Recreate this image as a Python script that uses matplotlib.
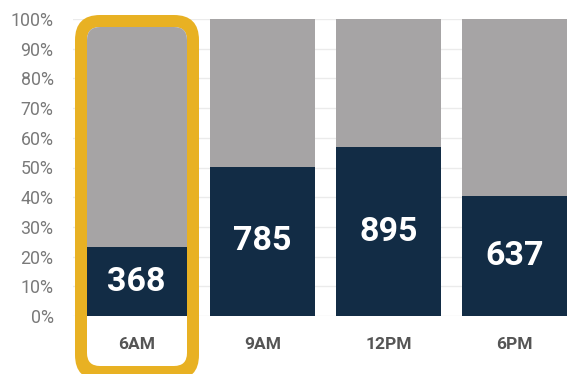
import matplotlib
matplotlib.use("Agg")
import matplotlib.pyplot as plt
from matplotlib.patches import FancyBboxPatch
from matplotlib.ticker import PercentFormatter

# Share of orders by time slot (dark) with the remainder (gray) stacked to 100%
slots = ["6AM", "9AM", "12PM", "6PM"]
share = [0.232, 0.502, 0.569, 0.404]
counts = [368, 785, 895, 637]
y_ticks = [0.0, 0.1, 0.2, 0.3, 0.4, 0.5, 0.6, 0.7, 0.8, 0.9, 1.0]
highlight = 0

NAVY = "#122c45"
GRAY = "#a6a4a5"
GOLD = "#e8b123"

W, H, DPI = 567, 374, 100
fig = plt.figure(figsize=(W / DPI, H / DPI), dpi=DPI)
fig.patch.set_facecolor("white")

# axes frame in pixels: left 73, right 567, 0% at y=316, 100% at y=19
ax = fig.add_axes([73 / W, (H - 316) / H, (W - 73) / W, (316 - 19) / H])
ax.set_xlim(-0.504, 3.417)
ax.set_ylim(0, 1)
for s in ax.spines.values():
    s.set_visible(False)

ax.set_yticks(y_ticks)
ax.yaxis.set_major_formatter(PercentFormatter(1.0, decimals=0))
for t in y_ticks:
    ax.axhline(t, color="#ebebeb", linewidth=1.0, zorder=0.1)
ax.tick_params(axis="y", length=0, pad=14, labelsize=12.8, labelcolor="#7a7a7a")
ax.tick_params(axis="x", length=0, pad=15, labelsize=12.5, labelcolor="#555555")
for lab in ax.get_yticklabels():
    lab.set_fontfamily("Roboto")
    lab.set_fontweight("normal")

x = list(range(len(slots)))
ax.set_xticks(x)
ax.set_xticklabels(slots, fontfamily="Roboto", fontweight="bold")

# highlight frame around the first slot (positioned in inches)
ins = fig.dpi_scale_trans
outer = FancyBboxPatch((75 / DPI + 0.25, -0.06 + 0.25), (199 - 75) / DPI - 0.5,
                       (380 - 15) / DPI - 0.5,
                       boxstyle="round,pad=0.25", transform=ins,
                       facecolor=GOLD, edgecolor="none", zorder=0.6,
                       clip_on=False)
inner = FancyBboxPatch((87 / DPI + 0.13, (H - 366) / DPI + 0.13),
                       (187 - 87) / DPI - 0.26, (366 - 27) / DPI - 0.26,
                       boxstyle="round,pad=0.13", transform=ins,
                       facecolor="white", edgecolor="none", zorder=0.7,
                       clip_on=False)
ax.add_patch(outer)
ax.add_patch(inner)

rest = [1 - v for v in share]
dark = ax.bar(x, share, width=0.835, color=NAVY, zorder=3)
light = ax.bar(x, rest, bottom=share, width=0.835, color=GRAY, zorder=3)
for bars in (dark, light):
    bars[highlight].set_clip_path(inner)

for xi, v, c in zip(x, share, counts):
    ax.text(xi, v / 2, str(c), ha="center", va="center", color="white",
            fontsize=24.5, fontweight="bold", fontfamily="Roboto", zorder=4)

fig.savefig("out.png", dpi=DPI)
